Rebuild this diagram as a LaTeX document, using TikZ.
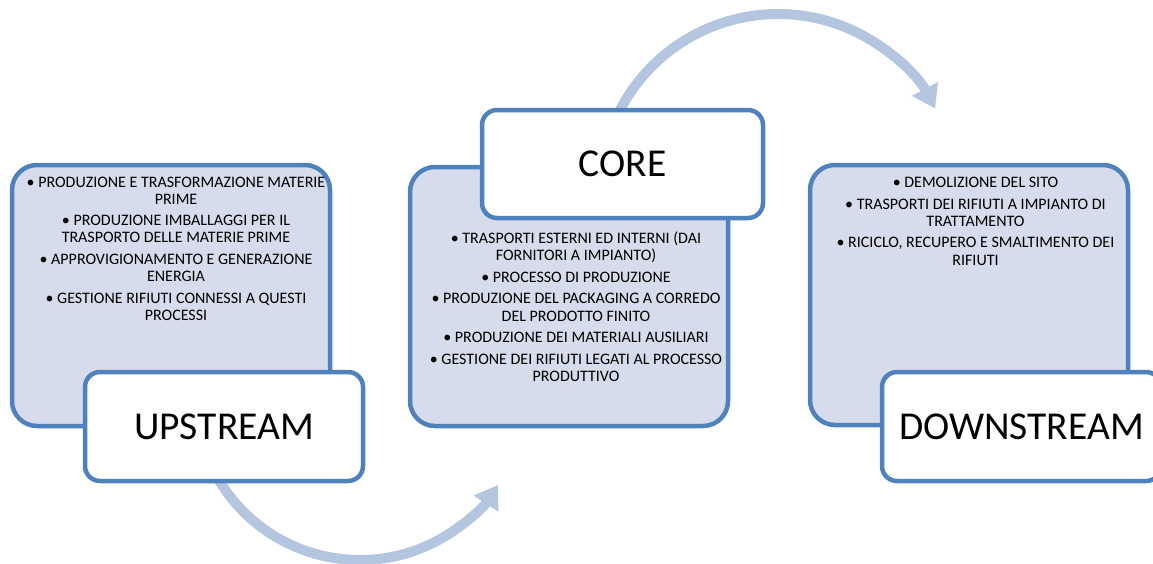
\documentclass[tikz,border=0pt]{standalone}
\usepackage{fontspec}
\setmainfont{Carlito}
\usetikzlibrary{arrows.meta}
\definecolor{panelfill}{RGB}{214,220,235}
\definecolor{panelline}{RGB}{79,129,189}
\definecolor{arrowcol}{RGB}{180,197,224}
\begin{document}
\begin{tikzpicture}[x=1pt,y=-1pt,
  panel/.style={draw=panelline, line width=4.5pt, fill=panelfill, rounded corners=25pt, minimum width=318pt, inner sep=0pt},
  labelbox/.style={draw=panelline, line width=4.5pt, fill=white, rounded corners=15pt, inner sep=0pt, font=\fontsize{39.5}{44}\selectfont},
  flow/.style={draw=arrowcol, line width=10pt, -{Triangle[length=22pt,width=28pt]}},
  items/.style={anchor=north, inner sep=0pt, align=center, font=\fontsize{16}{17.2}\selectfont}]
\useasboundingbox (0,0) rectangle (1153,563);
\clip (0,0) rectangle (1153,563);
% connectors
\coordinate (b0) at (217.5,477.75);
\coordinate (t0) at (616.7,116.8);
\draw[flow] (b0) arc[start angle=150, end angle=33, radius=164.5];
\draw[flow] (t0) arc[start angle=-155, end angle=-28, radius=178];
% upstream
\node[panel, minimum height=261pt] (uppanel) at (171,295.5) {};
\node[items] (uptext) at (176,174.8) {\strut• PRODUZIONE E TRASFORMAZIONE MATERIE\\PRIME\\[4.3pt]
• PRODUZIONE IMBALLAGGI PER IL\\TRASPORTO DELLE MATERIE PRIME\\[4.3pt]
• APPROVIGIONAMENTO E GENERAZIONE\\ENERGIA\\[4.3pt]
• GESTIONE RIFIUTI CONNESSI A QUESTI\\PROCESSI};
\node[labelbox, minimum width=278pt, minimum height=109pt] (uplabel) at (224,426.5) {UPSTREAM};
% core
\node[panel, minimum height=259pt] (corepanel) at (569,296.5) {};
\node[items] (coretext) at (576,231.4) {\strut• TRASPORTI ESTERNI ED INTERNI (DAI\\FORNITORI A IMPIANTO)\\[4.3pt]
• PROCESSO DI PRODUZIONE\\[4.3pt]
• PRODUZIONE DEL PACKAGING A CORREDO\\DEL PRODOTTO FINITO\\[4.3pt]
• PRODUZIONE DEI MATERIALI AUSILIARI\\[4.3pt]
• GESTIONE DEI RIFIUTI LEGATI AL PROCESSO\\PRODUTTIVO};
\node[labelbox, minimum width=281pt, minimum height=108pt] (corelabel) at (622.5,164) {CORE};
% downstream
\node[panel, minimum height=260pt] (downpanel) at (969,295) {};
\node[items] (downtext) at (975.5,175.4) {\strut• DEMOLIZIONE DEL SITO\\[4.3pt]
• TRASPORTI DEI RIFIUTI A IMPIANTO DI\\TRATTAMENTO\\[4.3pt]
• RICICLO, RECUPERO E SMALTIMENTO DEI\\RIFIUTI};
\node[labelbox, minimum width=279pt, minimum height=109pt] (downlabel) at (1021.5,426.5) {DOWNSTREAM};
\end{tikzpicture}
\end{document}
